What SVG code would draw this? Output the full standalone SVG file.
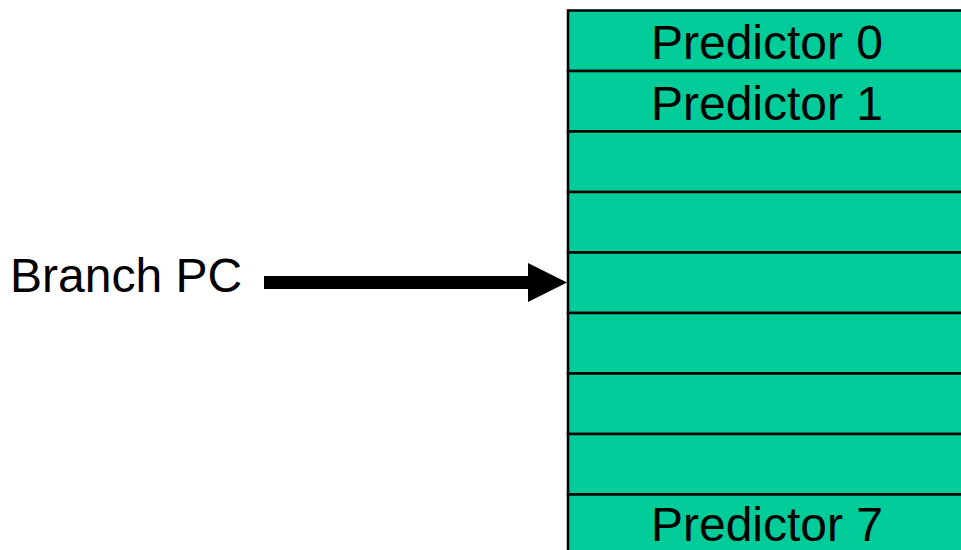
<svg xmlns="http://www.w3.org/2000/svg" width="961" height="550" viewBox="0 0 961 550">
<style>
.row{fill:#00CC99;stroke:#000;stroke-width:2.5}
.lbl{font-family:"Liberation Sans",Arial,sans-serif;font-size:48px;fill:#000}
</style>
<rect width="961" height="550" fill="#fff"/>
<g id="table">
<rect class="row" x="568" y="10.5" width="400" height="60.5"/>
<rect class="row" x="568" y="71" width="400" height="60.5"/>
<rect class="row" x="568" y="131.5" width="400" height="60.5"/>
<rect class="row" x="568" y="192" width="400" height="60.5"/>
<rect class="row" x="568" y="252.5" width="400" height="60.5"/>
<rect class="row" x="568" y="313" width="400" height="60.5"/>
<rect class="row" x="568" y="373.5" width="400" height="60.5"/>
<rect class="row" x="568" y="434" width="400" height="60.5"/>
<rect class="row" x="568" y="494.5" width="400" height="60.5"/>
<text class="lbl" x="767" y="59" text-anchor="middle">Predictor 0</text>
<text class="lbl" x="767" y="120" text-anchor="middle">Predictor 1</text>
<text class="lbl" x="767" y="541" text-anchor="middle">Predictor 7</text>
</g>
<g id="branch-pc">
<text class="lbl" x="10" y="291.5">Branch PC</text>
</g>
<g id="connectors">
<rect x="264" y="276" width="265" height="13" fill="#000"/>
<polygon points="528,263 567,282.5 528,302" fill="#000"/>
</g>
</svg>
